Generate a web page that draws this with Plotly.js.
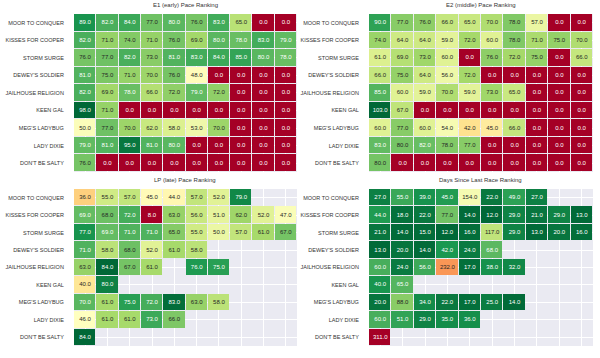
<!DOCTYPE html>
<html>
<head>
<meta charset="utf-8">
<script src="https://cdn.plot.ly/plotly-3.0.1.min.js"></script>
<style>html,body{margin:0;padding:0;background:#fff;}#chart{width:600px;height:358px;}</style>
</head>
<body>
<div id="chart"></div>
<script>
const horses = ["MOOR TO CONQUER","KISSES FOR COOPER","STORM SURGE","DEWEY'S SOLDIER","JAILHOUSE RELIGION","KEEN GAL","MEG'S LADYBUG","LADY DIXIE","DON'T BE SALTY"];
const races = [0,1,2,3,4,5,6,7,8,9];

const e1 = [
  [89,82,84,77,80,76,83,65,0,0],
  [82,71,74,71,76,69,80,78,83,79],
  [76,77,82,73,81,83,84,85,80,78],
  [81,75,71,70,76,48,0,0,0,0],
  [82,69,78,66,72,79,72,0,0,0],
  [98,71,0,0,0,0,0,0,0,0],
  [50,77,70,62,58,53,70,0,0,0],
  [79,81,95,81,80,0,0,0,0,0],
  [76,0,0,0,0,0,0,0,0,0]
];
const e2 = [
  [90,77,76,66,65,70,78,57,0,0],
  [74,64,64,59,72,60,78,71,75,70],
  [61,69,73,60,0,76,72,75,0,66],
  [66,75,64,56,72,0,0,0,0,0],
  [85,60,59,70,59,73,65,0,0,0],
  [103,67,0,0,0,0,0,0,0,0],
  [60,77,60,54,42,45,66,0,0,0],
  [83,80,82,78,77,0,0,0,0,0],
  [80,0,0,0,0,0,0,0,0,0]
];
const lp = [
  [36,55,57,45,44,57,52,79,null,null],
  [69,68,72,8,63,56,51,62,52,47],
  [77,69,71,71,65,55,50,57,61,67],
  [71,58,68,52,61,58,null,null,null,null],
  [63,84,67,61,null,76,75,null,null,null],
  [40,80,null,null,null,null,null,null,null,null],
  [70,61,75,72,83,63,58,null,null,null],
  [46,61,61,73,66,null,null,null,null,null],
  [84,null,null,null,null,null,null,null,null,null]
];
const days = [
  [27,55,39,45,154,22,49,27,null,null],
  [44,18,22,77,14,12,29,21,29,13],
  [21,14,15,12,16,117,29,13,20,16],
  [13,20,14,42,24,68,null,null,null,null],
  [60,24,56,232,17,38,32,null,null,null],
  [40,65,null,null,null,null,null,null,null,null],
  [20,88,34,22,17,25,14,null,null,null],
  [60,51,29,35,36,null,null,null,null,null],
  [311,null,null,null,null,null,null,null,null,null]
];
const titles = ["E1 (early) Pace Ranking","E2 (middle) Pace Ranking","LP (late) Pace Ranking","Days Since Last Race Ranking"];

const rdylgn = ["#a50026","#d73027","#f46d43","#fdae61","#fee08b","#ffffbf","#d9ef8b","#a6d96a","#66bd63","#1a9850","#006837"];
function scale(cols){ return cols.map((c,i)=>[i/(cols.length-1), c]); }
const csNorm = scale(rdylgn);
const csRev = scale(rdylgn.slice().reverse());

function hex2rgb(h){ return [parseInt(h.substr(1,2),16),parseInt(h.substr(3,2),16),parseInt(h.substr(5,2),16)]; }
function interp(cs, t){
  t = Math.max(0, Math.min(1, t));
  for (let i=0;i<cs.length-1;i++){
    if (t <= cs[i+1][0]){
      const f = (t-cs[i][0])/(cs[i+1][0]-cs[i][0]);
      const a = hex2rgb(cs[i][1]), b = hex2rgb(cs[i+1][1]);
      return a.map((v,k)=>v+(b[k]-v)*f);
    }
  }
  return hex2rgb(cs[cs.length-1][1]);
}
function lum(rgb){
  const c = rgb.map(v=>{v/=255; return v<=0.03928? v/12.92 : Math.pow((v+0.055)/1.055,2.4);});
  return 0.2126*c[0]+0.7152*c[1]+0.0722*c[2];
}

const panels = [
  {z:e1, cs:csNorm, xa:'x', ya:'y', xd:[0.1233,0.495], yd:[0.5196,0.9609]},
  {z:e2, cs:csNorm, xa:'x2', ya:'y2', xd:[0.615,0.9883], yd:[0.5196,0.9609]},
  {z:lp, cs:csNorm, xa:'x3', ya:'y3', xd:[0.1233,0.495], yd:[0.0335,0.4721]},
  {z:days, cs:csRev, xa:'x4', ya:'y4', xd:[0.615,0.9883], yd:[0.0335,0.4721]}
];

const traces = [];
const layout = {
  width:600, height:358,
  margin:{l:0,r:0,t:0,b:0},
  paper_bgcolor:'#ffffff',
  plot_bgcolor:'#eaeaf2',
  showlegend:false,
  font:{family:'"Liberation Sans", Arial, sans-serif', color:'#333'},
  annotations:[]
};

panels.forEach((p,i)=>{
  const vals = p.z.flat().filter(v=>v!==null);
  const zmin = Math.min(...vals), zmax = Math.max(...vals);
  traces.push({
    type:'heatmap', z:p.z, x:races, y:horses, xaxis:p.xa, yaxis:p.ya,
    colorscale:p.cs, zmin:zmin, zmax:zmax, showscale:false,
    xgap:1, ygap:1, hoverongaps:false
  });
  const tx=[], ty=[], tt=[], tc=[];
  p.z.forEach((row,r)=>row.forEach((v,c)=>{
    if (v===null) return;
    tx.push(races[c]); ty.push(horses[r]); tt.push(v.toFixed(1));
    const rgb = interp(p.cs, (v-zmin)/(zmax-zmin));
    tc.push(lum(rgb) > 0.408 ? '#262626' : '#ffffff');
  }));
  traces.push({
    type:'scatter', mode:'text', x:tx, y:ty, text:tt, xaxis:p.xa, yaxis:p.ya,
    textfont:{size:6, color:tc, family:'"Liberation Sans", Arial, sans-serif'},
    hoverinfo:'skip'
  });
  const sfx = i===0 ? '' : String(i+1);
  layout['xaxis'+sfx] = {
    domain:p.xd, anchor:p.ya, range:[-0.5,9.5], showticklabels:false,
    showgrid:true, gridcolor:'#ffffff', gridwidth:1, dtick:1, tick0:0,
    zeroline:false, showline:false, ticks:'', fixedrange:true
  };
  layout['yaxis'+sfx] = {
    domain:p.yd, anchor:p.xa, type:'category', categoryorder:'array', categoryarray:horses,
    autorange:'reversed', showgrid:true, gridcolor:'#ffffff', gridwidth:1,
    zeroline:false, showline:false, ticks:'outside', ticklen:8, tickcolor:'rgba(0,0,0,0)',
    tickfont:{size:5.5, color:'#333', family:'"Liberation Sans", Arial, sans-serif'}, fixedrange:true
  };
  layout.annotations.push({
    text:titles[i], xref:'paper', yref:'paper',
    x:(p.xd[0]+p.xd[1])/2, y:p.yd[1]+0.012, xanchor:'center', yanchor:'bottom',
    showarrow:false, font:{size:6, color:'#333', family:'"Liberation Sans", Arial, sans-serif'}
  });
});

Plotly.newPlot('chart', traces, layout, {displayModeBar:false, staticPlot:true});
</script>
</body>
</html>
